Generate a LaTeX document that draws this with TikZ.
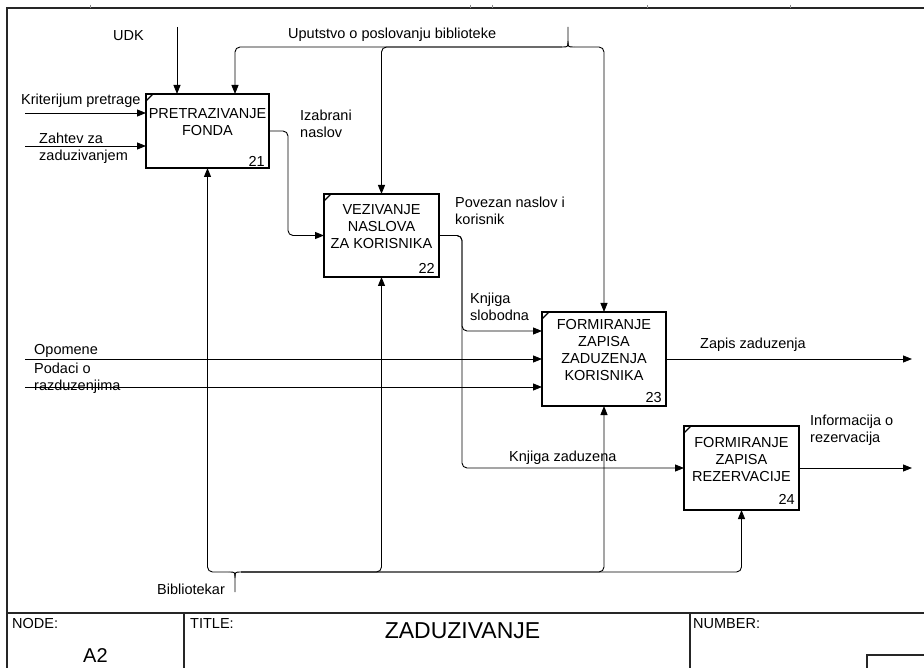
\documentclass[tikz,border=0pt]{standalone}
\usepackage{fontspec}
\setmainfont{Liberation Sans}
\usetikzlibrary{arrows.meta}
\newcommand\lblfont{\fontsize{14.5}{17}\selectfont}
\begin{document}
\begin{tikzpicture}[x=1pt,y=-1pt,
  frame/.style={line width=1.1pt, draw=black!85},
  tickline/.style={line width=0.5pt, draw=black!45},
  proc/.style={draw, line width=1.8pt, inner sep=0pt, outer sep=0pt},
  corner/.style={line width=1.2pt},
  conn/.style={line width=0.9pt, draw=black},
  arr/.style={conn, rounded corners=5pt, -{Triangle[length=9pt,width=7pt]}},
  lbl/.style={inner sep=0pt, anchor=north west, align=left, font=\lblfont},
  ctext/.style={inner sep=0pt, anchor=north, align=center, font=\lblfont},
  num/.style={inner sep=0pt, anchor=north east, font=\lblfont}]

\useasboundingbox (0,0) rectangle (924,668);

% outer frame and title block
\draw[frame] (924,8) -- (7,8) -- (7,668);
\foreach \tx in {90,470,492,647,790} \draw[tickline] (\tx,5) -- (\tx,8);
\draw[frame] (7,613) -- (924,613);
\draw[frame] (184,613) -- (184,668);
\draw[frame] (690,613) -- (690,668);
\draw[frame] (924,655) -- (867,655) -- (867,668);
\node[lbl] (tnode) at (12,618) {NODE:};
\node[lbl] (ttitle) at (190,618) {TITLE:};
\node[lbl] (tnumber) at (693,618) {NUMBER:};
\node[inner sep=0pt, anchor=north west, font=\fontsize{20}{24}\selectfont] (tnodeid) at (83,648) {A2};
\node[inner sep=0pt, anchor=north, font=\fontsize{23}{27}\selectfont] (tname) at (462.5,622) {ZADUZIVANJE};

% activity boxes
\node[proc, minimum width=123pt, minimum height=74pt] (b21) at (207.5,131) {};
\node[proc, minimum width=115pt, minimum height=83pt] (b22) at (381.5,235.5) {};
\node[proc, minimum width=124pt, minimum height=94pt] (b23) at (604,359) {};
\node[proc, minimum width=115pt, minimum height=84pt] (b24) at (741.5,468) {};
\foreach \b in {b21,b22,b23,b24}
  \draw[corner] ([yshift=-7pt]\b.north west) -- ([xshift=7pt]\b.north west);

\node[ctext] (t21) at (207.5,108) {PRETRAZIVANJE\\FONDA};
\node[ctext] (t22) at (381.5,204) {VEZIVANJE\\NASLOVA\\ZA KORISNIKA};
\node[ctext] (t23) at (604,319) {FORMIRANJE\\ZAPISA\\ZADUZENJA\\KORISNIKA};
\node[ctext] (t24) at (741.5,437) {FORMIRANJE\\ZAPISA\\REZERVACIJE};
\node[num] (n21) at (265,156) {21};
\node[num] (n22) at (435,263) {22};
\node[num] (n23) at (662,392) {23};
\node[num] (n24) at (795,494) {24};

% free ends and junction points
\coordinate (udk) at (177,27);
\coordinate (c21) at (235,94);
\coordinate (uTop) at (568,27);
\coordinate (uMid) at (568,41);
\coordinate (uL) at (562,47);
\coordinate (uR) at (574,47);
\coordinate (bTick) at (235,592);
\coordinate (bMid) at (235,578);
\coordinate (bL) at (229,572);
\coordinate (bR) at (241,572);
\coordinate (kp) at (25,113);
\coordinate (zz) at (25,146);
\coordinate (op) at (25,359);
\coordinate (pd) at (25,387);
\coordinate (k1) at (542,331);
\coordinate (o23) at (912,359);
\coordinate (o24) at (912,468);

% controls
\draw[arr] (udk) -- (udk |- b21.north);
\draw[conn] (uTop) -- (uMid) .. controls (568,47) .. (uL);
\draw[conn] (uMid) .. controls (568,47) .. (uR);
\draw[arr] (uL) -| (c21);
\draw[arr] (uL) -| (b22.north);
\draw[arr] (uR) -| (b23.north);

% mechanisms
\draw[conn] (bTick) -- (bMid) .. controls (235,572) .. (bL);
\draw[conn] (bMid) .. controls (235,572) .. (bR);
\draw[arr] (bL) -| (b21.south);
\draw[arr] (bR) -| (b22.south);
\draw[arr] (bR) -| (b23.south);
\draw[arr] (bR) -| (b24.south);

% inputs
\draw[arr] (kp) -- (kp -| b21.west);
\draw[arr] (zz) -- (zz -| b21.west);
\draw[arr] (op) -- (op -| b23.west);
\draw[arr] (pd) -- (pd -| b23.west);

% flows between activities
\draw[arr] (b21.east) -- ++(19,0) |- (b22.west);
\draw[arr] (b22.east) -- ++(23,0) |- (k1);
\draw[arr] (b22.east) -- ++(23,0) |- (b24.west);

% outputs
\draw[arr] (b23.east) -- (o23);
\draw[arr] (b24.east) -- (o24);

% arrow labels
\node[lbl] (lUDK) at (113,30) {UDK};
\node[lbl] (lUp) at (288,28) {Uputstvo o poslovanju biblioteke};
\node[lbl] (lKp) at (21,94) {Kriterijum pretrage};
\node[lbl] (lZz) at (39,133) {Zahtev za\\zaduzivanjem};
\node[lbl] (lIz) at (300,110) {Izabrani\\naslov};
\node[lbl] (lPov) at (455,197) {Povezan naslov i\\korisnik};
\node[lbl] (lKs) at (470,293) {Knjiga\\slobodna};
\node[lbl] (lOp) at (34,344) {Opomene};
\node[lbl] (lPd) at (34,363) {Podaci o\\razduzenjima};
\node[lbl] (lZap) at (700,338) {Zapis zaduzenja};
\node[lbl] (lKz) at (509,451) {Knjiga zaduzena};
\node[lbl] (lInf) at (810,415) {Informacija o\\rezervacija};
\node[lbl] (lBib) at (157,584) {Bibliotekar};
\end{tikzpicture}
\end{document}
